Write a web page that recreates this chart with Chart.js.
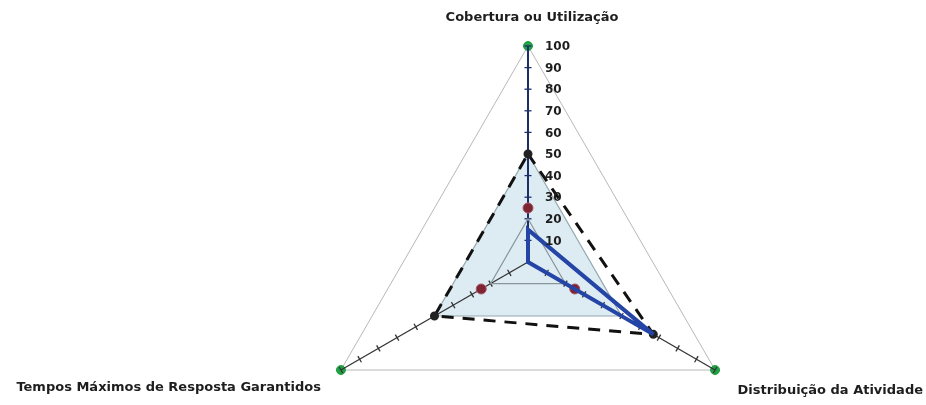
<!DOCTYPE html>
<html>
<head>
<meta charset="utf-8">
<script src="https://cdn.jsdelivr.net/npm/chart.js@4/dist/chart.umd.min.js"></script>
<style>
  html, body { margin: 0; padding: 0; background: #fff; }
  #wrap { width: 926px; height: 405px; position: relative; }
</style>
</head>
<body>
<div id="wrap"><canvas id="radar"></canvas></div>
<script>
// axes of the radar, clockwise from the top
const axisLabels = ['Cobertura ou Utilização', 'Distribuição da Atividade', 'Tempos Máximos de Resposta Garantidos'];
const tickValues = [10, 20, 30, 40, 50, 60, 70, 80, 90, 100];

// series
const outerValues = [100, 100, 100];
const dashedValues = [50, 67, 50];
const areaValues = [50, 50, 50];
const innerValues = [20, 20, 20];
const redValues = [25, 25, 25];
const blueValues = [15, 67, 0];

const FONT = '"DejaVu Sans", sans-serif';

// axes with tick marks are drawn right after the shaded area so they show through it
const axisDecor = {
  id: 'axisDecor',
  afterDatasetDraw(chart, args) {
    if (args.meta.label !== 'area') return;
    const s = chart.scales.r;
    const ctx = chart.ctx;
    const c = s.getPointPositionForValue(0, 0);
    ctx.save();
    for (let i = 0; i < axisLabels.length; i++) {
      const end = s.getPointPositionForValue(i, 100);
      ctx.strokeStyle = i === 0 ? '#1c2d6b' : '#333';
      ctx.lineWidth = i === 0 ? 2 : 1.3;
      ctx.beginPath();
      ctx.moveTo(c.x, c.y);
      ctx.lineTo(end.x, end.y);
      ctx.stroke();

      const a = s.getIndexAngle(i) - Math.PI / 2;
      const px = -Math.sin(a), py = Math.cos(a);
      ctx.lineWidth = 1.3;
      tickValues.forEach(v => {
        const p = s.getPointPositionForValue(i, v);
        ctx.beginPath();
        ctx.moveTo(p.x - px * 3.5, p.y - py * 3.5);
        ctx.lineTo(p.x + px * 3.5, p.y + py * 3.5);
        ctx.stroke();
      });
    }
    ctx.restore();
  },
  afterDraw(chart) {
    const s = chart.scales.r;
    const ctx = chart.ctx;
    ctx.save();
    ctx.fillStyle = '#1e1e1e';
    ctx.font = 'bold 12px ' + FONT;
    ctx.textAlign = 'left';
    ctx.textBaseline = 'middle';
    tickValues.forEach(v => {
      const p = s.getPointPositionForValue(0, v);
      ctx.fillText(String(v), p.x + 17, p.y + 1);
    });

    ctx.font = 'bold 13px ' + FONT;
    const top = s.getPointPositionForValue(0, 100);
    const right = s.getPointPositionForValue(1, 100);
    const left = s.getPointPositionForValue(2, 100);
    ctx.textAlign = 'center';
    ctx.fillText(axisLabels[0], top.x + 4, top.y - 28);
    ctx.textAlign = 'right';
    ctx.fillText(axisLabels[1], chart.width - 3, right.y + 21);
    ctx.fillText(axisLabels[2], left.x - 20, left.y + 18);
    ctx.restore();
  }
};

new Chart(document.getElementById('radar'), {
  type: 'radar',
  data: {
    labels: axisLabels,
    datasets: [
      {
        label: 'blue',
        data: blueValues,
        borderColor: '#2444a6',
        backgroundColor: 'transparent',
        borderWidth: 4,
        pointRadius: 0,
        fill: false
      },
      {
        label: 'dashed',
        data: dashedValues,
        borderColor: '#111',
        backgroundColor: 'transparent',
        borderWidth: 3,
        borderDash: [12, 9],
        pointRadius: 3,
        pointBackgroundColor: '#222',
        pointBorderColor: '#222',
        fill: false
      },
      {
        label: 'red',
        data: redValues,
        showLine: false,
        fill: false,
        pointRadius: 5,
        pointBackgroundColor: '#7e2433',
        pointBorderColor: '#a85464',
        borderColor: 'transparent',
        backgroundColor: 'transparent'
      },
      {
        label: 'inner',
        data: innerValues,
        borderColor: '#8a969b',
        backgroundColor: 'transparent',
        borderWidth: 1.2,
        pointRadius: 0,
        fill: false
      },
      {
        label: 'area',
        data: areaValues,
        borderColor: '#94a8b0',
        borderWidth: 1.2,
        backgroundColor: 'rgba(210,228,237,0.75)',
        pointRadius: 0,
        fill: true
      },
      {
        label: 'outer',
        data: outerValues,
        borderColor: '#b8b8b8',
        backgroundColor: 'transparent',
        borderWidth: 1,
        segment: {
          borderColor: c => c.p0DataIndex === 1 ? '#9fd6c4' : '#b8b8b8',
          borderWidth: c => c.p0DataIndex === 1 ? 1.6 : 1
        },
        pointRadius: 4.5,
        pointBackgroundColor: '#21a045',
        pointBorderColor: '#21a045',
        fill: false
      }
    ]
  },
  options: {
    responsive: true,
    maintainAspectRatio: false,
    animation: false,
    plugins: { legend: { display: false }, tooltip: { enabled: false } },
    elements: { line: { tension: 0 } },
    scales: {
      r: {
        min: 0,
        max: 100,
        ticks: { display: false, stepSize: 10 },
        grid: { display: false },
        pointLabels: { display: false },
        angleLines: { display: false },
        afterFit(scale) {
          scale.xCenter = 528;
          scale.yCenter = 262;
          scale.drawingArea = 216;
        }
      }
    }
  },
  plugins: [axisDecor]
});
</script>
</body>
</html>
